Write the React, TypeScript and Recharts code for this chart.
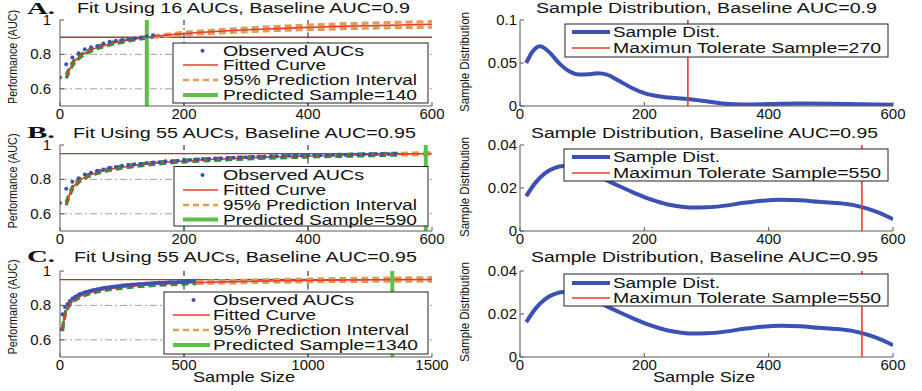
import React from 'react';
import { ComposedChart, Line, Scatter, XAxis, YAxis, ReferenceLine } from 'recharts';

const FONT = '"Liberation Sans", Arial, Helvetica, sans-serif';
const SERIF = '"Liberation Serif", "Times New Roman", serif';
const AXIS = '#5a5a5a';
const BLUE = '#3b52b4';
const RED = '#ee3a30';
const DARKRED = '#a83a3a';
const GREEN = '#5cbf46';
const DGREEN = '#2a9038';
const ORANGE = '#df9d55';
const GRAY = '#a0a0a0';

// ---------- Panel A (left) ----------
const obsX_A = [0, 10, 20, 30, 40, 50, 60, 70, 80, 90, 100, 110, 120, 130, 140, 150];
const obsAUC_A = [0.665, 0.743, 0.782, 0.806, 0.83, 0.841, 0.849, 0.864, 0.874, 0.88, 0.884, 0.888, 0.893, 0.897, 0.905, 0.912];
const curveX_A = [10, 20, 30, 40, 50, 60, 70, 80, 100, 120, 140, 150, 200, 250, 300, 350, 400, 450, 500, 550, 600];
const fit_A = [0.67, 0.742, 0.782, 0.807, 0.825, 0.84, 0.851, 0.861, 0.876, 0.889, 0.9, 0.904, 0.921, 0.933, 0.943, 0.95, 0.957, 0.963, 0.967, 0.971, 0.975];
const hi_A = [0.68, 0.75, 0.79, 0.813, 0.831, 0.845, 0.856, 0.866, 0.881, 0.893, 0.904, 0.908, 0.928, 0.942, 0.953, 0.962, 0.97, 0.977, 0.982, 0.987, 0.991];
const lo_A = [0.66, 0.734, 0.774, 0.8, 0.818, 0.834, 0.845, 0.855, 0.87, 0.884, 0.895, 0.899, 0.914, 0.924, 0.932, 0.939, 0.944, 0.949, 0.953, 0.956, 0.959];
const dataEnd_A = 150;
const baseline_A = 0.9;
const predicted_A = 140;
const nAUC_A = 16;

// ---------- Panel B (left) ----------
const obsX_BC = [0, 10, 20, 30, 40, 50, 60, 70, 80, 90, 100, 110, 120, 130, 140, 150, 160, 170, 180, 190, 200, 210, 220, 230, 240, 250, 260, 270, 280, 290, 300, 310, 320, 330, 340, 350, 360, 370, 380, 390, 400, 410, 420, 430, 440, 450, 460, 470, 480, 490, 500, 510, 520, 530, 540];
const obsAUC_B = [0.663, 0.745, 0.786, 0.806, 0.828, 0.838, 0.85, 0.858, 0.868, 0.872, 0.879, 0.883, 0.888, 0.89, 0.895, 0.898, 0.9, 0.905, 0.906, 0.909, 0.912, 0.913, 0.916, 0.918, 0.919, 0.922, 0.922, 0.925, 0.926, 0.927, 0.929, 0.93, 0.932, 0.932, 0.934, 0.935, 0.935, 0.937, 0.938, 0.938, 0.94, 0.94, 0.941, 0.942, 0.942, 0.943, 0.944, 0.944, 0.945, 0.946, 0.946, 0.947, 0.947, 0.948, 0.949];
const curveX_B = [10, 20, 30, 40, 50, 60, 80, 100, 150, 200, 250, 300, 350, 400, 450, 500, 550, 600];
const fit_B = [0.66, 0.748, 0.788, 0.812, 0.828, 0.84, 0.858, 0.871, 0.893, 0.907, 0.917, 0.925, 0.931, 0.936, 0.94, 0.944, 0.947, 0.9503];
const hi_B = [0.668, 0.755, 0.795, 0.818, 0.834, 0.846, 0.864, 0.877, 0.898, 0.912, 0.922, 0.93, 0.936, 0.941, 0.945, 0.949, 0.952, 0.956];
const lo_B = [0.65, 0.74, 0.781, 0.806, 0.822, 0.834, 0.852, 0.865, 0.887, 0.901, 0.911, 0.919, 0.925, 0.93, 0.934, 0.938, 0.942, 0.945];
const dataEnd_B = 550;
const baseline_B = 0.95;
const predicted_B = 590;
const nAUC_B = 55;

// ---------- Panel C (left) ----------
const obsAUC_C = [0.662, 0.748, 0.79, 0.808, 0.826, 0.84, 0.849, 0.857, 0.866, 0.871, 0.876, 0.88, 0.884, 0.888, 0.891, 0.894, 0.897, 0.899, 0.902, 0.904, 0.906, 0.908, 0.91, 0.912, 0.913, 0.915, 0.917, 0.918, 0.919, 0.921, 0.922, 0.923, 0.924, 0.925, 0.926, 0.927, 0.928, 0.929, 0.93, 0.93, 0.931, 0.932, 0.932, 0.933, 0.934, 0.934, 0.935, 0.935, 0.936, 0.936, 0.937, 0.937, 0.938, 0.94, 0.943];
const curveX_C = [10, 20, 30, 40, 60, 80, 100, 150, 200, 300, 400, 500, 550, 600, 700, 800, 900, 1000, 1100, 1200, 1300, 1400, 1500];
const fit_C = [0.66, 0.745, 0.785, 0.808, 0.835, 0.852, 0.864, 0.884, 0.897, 0.913, 0.923, 0.93, 0.933, 0.935, 0.938, 0.941, 0.943, 0.945, 0.947, 0.948, 0.9495, 0.9505, 0.951];
const hi_C = [0.668, 0.752, 0.791, 0.814, 0.84, 0.857, 0.869, 0.889, 0.902, 0.918, 0.928, 0.935, 0.938, 0.941, 0.945, 0.948, 0.951, 0.953, 0.955, 0.957, 0.958, 0.96, 0.961];
const lo_C = [0.65, 0.737, 0.778, 0.802, 0.829, 0.846, 0.858, 0.878, 0.891, 0.907, 0.917, 0.924, 0.927, 0.929, 0.931, 0.934, 0.935, 0.937, 0.939, 0.939, 0.941, 0.941, 0.941];
const dataEnd_C = 550;
const baseline_C = 0.95;
const predicted_C = 1340;
const nAUC_C = 55;

// ---------- Sample distributions (right) ----------
const distX_A = [10, 20, 32, 45, 64, 80, 95, 110, 125, 140, 160, 180, 200, 225, 250, 270, 300, 330, 360, 400, 450, 500, 550, 600];
const dist_A = [0.05, 0.063, 0.0695, 0.064, 0.049, 0.04, 0.0365, 0.0368, 0.0382, 0.0365, 0.029, 0.021, 0.015, 0.011, 0.0092, 0.0082, 0.0055, 0.0025, 0.0018, 0.0022, 0.003, 0.0027, 0.002, 0.0015];
const maxTol_A = 270;
const distX_BC = [10, 25, 40, 55, 70, 85, 100, 120, 140, 160, 180, 200, 220, 240, 260, 280, 300, 330, 360, 390, 420, 450, 480, 510, 540, 560, 580, 600];
const dist_BC = [0.0162, 0.0225, 0.0268, 0.0292, 0.0302, 0.03, 0.0288, 0.0262, 0.0235, 0.0208, 0.0182, 0.0158, 0.0138, 0.0122, 0.0113, 0.0109, 0.011, 0.0118, 0.0131, 0.0141, 0.0145, 0.0143, 0.0136, 0.013, 0.0118, 0.0103, 0.0082, 0.0055];
const maxTol_BC = 550;

// ---------- helpers ----------
type Pt = { x: number; y: number };
const toPts = (xs: number[], ys: number[]): Pt[] => xs.map((x, i) => ({ x, y: ys[i] }));
const upTo = (pts: Pt[], m: number) => pts.filter((p) => p.x <= m);
const from = (pts: Pt[], m: number) => pts.filter((p) => p.x >= m);

const xTick = (p: any) => (
  <text x={p.x} y={p.y + 9} textAnchor="middle" fontSize={15} fontFamily={FONT} fill="#111">
    {p.payload.value}
  </text>
);
const yTick = (p: any) => (
  <text x={p.x} y={p.y + 5} textAnchor="end" fontSize={15} fontFamily={FONT} fill="#111">
    {p.payload.value}
  </text>
);

const PLOT_H = 86;

type FitProps = {
  top: number;
  xMax: number;
  xTicks: number[];
  vGrid: number[];
  obsX: number[];
  obsY: number[];
  cx: number[];
  fit: number[];
  hi: number[];
  lo: number[];
  dataEnd: number;
  baseline: number;
  predicted: number;
};

function FitPanel(p: FitProps) {
  const obs = toPts(p.obsX, p.obsY);
  const fit = toPts(p.cx, p.fit);
  const hi = toPts(p.cx, p.hi);
  const lo = toPts(p.cx, p.lo);
  const dash = { strokeDasharray: '7 4', strokeWidth: 3.2 };
  return (
    <div style={{ position: 'absolute', left: 0, top: p.top - 20, width: 460, height: PLOT_H + 42 }}>
      <ComposedChart width={460} height={PLOT_H + 42} margin={{ top: 20, right: 28, bottom: 0, left: 0 }}>
        <XAxis type="number" dataKey="x" domain={[0, p.xMax]} ticks={p.xTicks} interval={0} allowDataOverflow height={22} tickSize={-4} tickMargin={8} tick={xTick} stroke={AXIS} />
        <XAxis xAxisId="top" orientation="top" type="number" domain={[0, p.xMax]} ticks={p.xTicks} interval={0} allowDataOverflow height={0} tickSize={-4} tick={false} stroke={AXIS} />
        <YAxis type="number" dataKey="y" domain={[0.5, 1]} ticks={[0.6, 0.8, 1]} interval={0} allowDataOverflow width={60} tickSize={-4} tickMargin={13} tick={yTick} stroke={AXIS} />
        <YAxis yAxisId="r" orientation="right" type="number" domain={[0.5, 1]} ticks={[0.6, 0.8, 1]} interval={0} allowDataOverflow width={0} tickSize={-4} tick={false} stroke={AXIS} />
        {p.vGrid.map((g) => (
          <ReferenceLine key={'v' + g} x={g} stroke="#111" strokeWidth={1} strokeDasharray="6 3 1.5 3" />
        ))}
        <ReferenceLine y={0.8} stroke={GRAY} strokeWidth={1} strokeDasharray="7 3 2 3" />
        <ReferenceLine y={0.6} stroke={GRAY} strokeWidth={1} strokeDasharray="7 3 2 3" />
        <ReferenceLine y={p.baseline} stroke={DARKRED} strokeWidth={1.4} />
        <Scatter data={obs} dataKey="y" fill={BLUE} isAnimationActive={false} shape={(s: any) => <circle cx={s.cx} cy={s.cy} r={2} fill={BLUE} />} />
        <Line data={upTo(hi, p.dataEnd)} dataKey="y" type="monotone" stroke={DGREEN} {...dash} dot={false} activeDot={false} isAnimationActive={false} />
        <Line data={upTo(lo, p.dataEnd)} dataKey="y" type="monotone" stroke={DGREEN} {...dash} dot={false} activeDot={false} isAnimationActive={false} />
        <Line data={from(hi, p.dataEnd)} dataKey="y" type="monotone" stroke={ORANGE} {...dash} dot={false} activeDot={false} isAnimationActive={false} />
        <Line data={from(lo, p.dataEnd)} dataKey="y" type="monotone" stroke={ORANGE} {...dash} dot={false} activeDot={false} isAnimationActive={false} />
        <Line data={fit} dataKey="y" type="monotone" stroke={RED} strokeWidth={1.6} dot={false} activeDot={false} isAnimationActive={false} />
        <ReferenceLine x={p.predicted} stroke={GREEN} strokeWidth={4} />
      </ComposedChart>
    </div>
  );
}

type DistProps = { top: number; yMax: number; yTicks: number[]; xs: number[]; ys: number[]; maxTol: number };

function DistPanel(p: DistProps) {
  const pts = toPts(p.xs, p.ys);
  const xt = [0, 200, 400, 600];
  return (
    <div style={{ position: 'absolute', left: 460, top: p.top - 20, width: 462, height: PLOT_H + 42 }}>
      <ComposedChart width={462} height={PLOT_H + 42} margin={{ top: 20, right: 29, bottom: 0, left: 0 }}>
        <XAxis type="number" dataKey="x" domain={[0, 600]} ticks={xt} interval={0} allowDataOverflow height={22} tickSize={-4} tickMargin={8} tick={xTick} stroke={AXIS} />
        <XAxis xAxisId="top" orientation="top" type="number" domain={[0, 600]} ticks={xt} interval={0} allowDataOverflow height={0} tickSize={-4} tick={false} stroke={AXIS} />
        <YAxis type="number" dataKey="y" domain={[0, p.yMax]} ticks={p.yTicks} interval={0} allowDataOverflow width={60} tickSize={-4} tickMargin={7} tick={yTick} stroke={AXIS} />
        <YAxis yAxisId="r" orientation="right" type="number" domain={[0, p.yMax]} ticks={p.yTicks} interval={0} allowDataOverflow width={0} tickSize={-4} tick={false} stroke={AXIS} />
        <Line data={pts} dataKey="y" type="monotone" stroke={BLUE} strokeWidth={4} dot={false} activeDot={false} isAnimationActive={false} />
        <ReferenceLine x={p.maxTol} stroke={RED} strokeWidth={1.6} />
      </ComposedChart>
    </div>
  );
}

type LegRow = { label: string; kind: string; len: number };
function Legend(props: { x: number; y: number; w: number; h: number; rows: number[]; sx1: number; sx2: number; tx: number; items: LegRow[] }) {
  const { x, y, w, h, rows, sx1, sx2, tx, items } = props;
  return (
    <g>
      <rect x={x} y={y} width={w} height={h} fill="#fff" stroke="#222" strokeWidth={1} />
      {items.map((it, i) => {
        const ry = rows[i];
        let sample: React.ReactNode = null;
        if (it.kind === 'dot') sample = <circle cx={(sx1 + sx2) / 2 + 2} cy={ry} r={2} fill={BLUE} />;
        if (it.kind === 'red') sample = <line x1={sx1} x2={sx2} y1={ry} y2={ry} stroke={RED} strokeWidth={1.5} />;
        if (it.kind === 'orange') sample = <line x1={sx1} x2={sx2} y1={ry} y2={ry} stroke={ORANGE} strokeWidth={2.5} strokeDasharray="6 4" />;
        if (it.kind === 'green') sample = <line x1={sx1} x2={sx2} y1={ry} y2={ry} stroke={GREEN} strokeWidth={4} />;
        if (it.kind === 'blue') sample = <line x1={sx1} x2={sx2} y1={ry} y2={ry} stroke={BLUE} strokeWidth={4} />;
        return (
          <g key={i}>
            {sample}
            <text x={tx} y={ry + 5} fontSize={14} fontFamily={FONT} fill="#111" textLength={it.len} lengthAdjust="spacingAndGlyphs">
              {it.label}
            </text>
          </g>
        );
      })}
    </g>
  );
}

const fitItems = (pred: number, lens: number[]): LegRow[] => [
  { label: 'Observed AUCs', kind: 'dot', len: lens[0] },
  { label: 'Fitted Curve', kind: 'red', len: lens[1] },
  { label: '95% Prediction Interval', kind: 'orange', len: lens[2] },
  { label: `Predicted Sample=${pred}`, kind: 'green', len: lens[3] },
];
const distItems = (tol: number): LegRow[] => [
  { label: 'Sample Dist.', kind: 'blue', len: 107 },
  { label: `Maximun Tolerate Sample=${tol}`, kind: 'red', len: 268 },
];

function T(props: { x: number; y: number; len: number; size?: number; children: React.ReactNode }) {
  return (
    <text x={props.x} y={props.y} textAnchor="middle" fontSize={props.size ?? 14} fontFamily={FONT} fill="#111" textLength={props.len} lengthAdjust="spacingAndGlyphs">
      {props.children}
    </text>
  );
}

function VLabel(props: { x: number; y: number; len: number; children: React.ReactNode }) {
  return (
    <text transform={`translate(${props.x},${props.y}) rotate(-90)`} textAnchor="middle" dominantBaseline="central" fontSize={13.5} fontFamily={FONT} fill="#111" textLength={props.len} lengthAdjust="spacingAndGlyphs">
      {props.children}
    </text>
  );
}

export default function App() {
  return (
    <div style={{ position: 'absolute', left: 0, top: 0, width: 922, height: 391, background: '#fff', overflow: 'hidden' }}>
      <FitPanel top={20} xMax={600} xTicks={[0, 200, 400, 600]} vGrid={[200, 400]} obsX={obsX_A} obsY={obsAUC_A} cx={curveX_A} fit={fit_A} hi={hi_A} lo={lo_A} dataEnd={dataEnd_A} baseline={baseline_A} predicted={predicted_A} />
      <FitPanel top={145} xMax={600} xTicks={[0, 200, 400, 600]} vGrid={[200, 400]} obsX={obsX_BC} obsY={obsAUC_B} cx={curveX_B} fit={fit_B} hi={hi_B} lo={lo_B} dataEnd={dataEnd_B} baseline={baseline_B} predicted={predicted_B} />
      <FitPanel top={271} xMax={1500} xTicks={[0, 500, 1000, 1500]} vGrid={[500, 1000]} obsX={obsX_BC} obsY={obsAUC_C} cx={curveX_C} fit={fit_C} hi={hi_C} lo={lo_C} dataEnd={dataEnd_C} baseline={baseline_C} predicted={predicted_C} />
      <DistPanel top={20} yMax={0.1} yTicks={[0, 0.05, 0.1]} xs={distX_A} ys={dist_A} maxTol={maxTol_A} />
      <DistPanel top={145} yMax={0.04} yTicks={[0, 0.02, 0.04]} xs={distX_BC} ys={dist_BC} maxTol={maxTol_BC} />
      <DistPanel top={271} yMax={0.04} yTicks={[0, 0.02, 0.04]} xs={distX_BC} ys={dist_BC} maxTol={maxTol_BC} />
      <svg width={922} height={391} style={{ position: 'absolute', left: 0, top: 0, pointerEvents: 'none' }}>
        <Legend x={173} y={43} w={255} h={60} rows={[50.7, 65, 80, 95]} sx1={183} sx2={218} tx={223} items={fitItems(predicted_A, [141, 103, 194, 194])} />
        <Legend x={174} y={166.5} w={254} h={59.5} rows={[175, 190, 205, 219.5]} sx1={183} sx2={218} tx={223} items={fitItems(predicted_B, [141, 103, 194, 194])} />
        <Legend x={164} y={292} w={264} h={62} rows={[300, 315, 330, 345]} sx1={173} sx2={210} tx={213} items={fitItems(predicted_C, [141, 103, 196, 205])} />
        <Legend x={565} y={24} w={323} h={33} rows={[32, 48]} sx1={572} sx2={610} tx={613} items={distItems(maxTol_A)} />
        <Legend x={564} y={149} w={324} h={32} rows={[157, 173]} sx1={572} sx2={610} tx={613} items={distItems(maxTol_BC)} />
        <Legend x={564} y={274} w={324} h={32} rows={[283, 298]} sx1={572} sx2={610} tx={613} items={distItems(maxTol_BC)} />

        <T x={243.5} y={13} len={333}>{`Fit Using ${nAUC_A} AUCs, Baseline AUC=${baseline_A}`}</T>
        <T x={244.5} y={138} len={343}>{`Fit Using ${nAUC_B} AUCs, Baseline AUC=${baseline_B}`}</T>
        <T x={245.5} y={262} len={343}>{`Fit Using ${nAUC_C} AUCs, Baseline AUC=${baseline_C}`}</T>
        <T x={706.5} y={13} len={341}>{`Sample Distribution, Baseline AUC=${baseline_A}`}</T>
        <T x={704.5} y={138} len={347}>{`Sample Distribution, Baseline AUC=${baseline_B}`}</T>
        <T x={704.5} y={262} len={347}>{`Sample Distribution, Baseline AUC=${baseline_C}`}</T>

        <text x={27} y={14} fontSize={17} fontWeight="bold" fontFamily={SERIF} fill="#111" textLength={28} lengthAdjust="spacingAndGlyphs">A.</text>
        <text x={27} y={138} fontSize={17} fontWeight="bold" fontFamily={SERIF} fill="#111" textLength={28} lengthAdjust="spacingAndGlyphs">B.</text>
        <text x={27} y={262} fontSize={17} fontWeight="bold" fontFamily={SERIF} fill="#111" textLength={28} lengthAdjust="spacingAndGlyphs">C.</text>

        <VLabel x={12} y={57} len={94}>Performance (AUC)</VLabel>
        <VLabel x={12} y={181} len={95}>Performance (AUC)</VLabel>
        <VLabel x={12} y={307} len={95}>Performance (AUC)</VLabel>
        <VLabel x={464} y={62} len={100}>Sample Distribution</VLabel>
        <VLabel x={464} y={187} len={100}>Sample Distribution</VLabel>
        <VLabel x={464} y={312} len={100}>Sample Distribution</VLabel>

        <T x={244} y={382} len={102} size={15}>Sample Size</T>
        <T x={704} y={382} len={102} size={15}>Sample Size</T>
      </svg>
    </div>
  );
}
